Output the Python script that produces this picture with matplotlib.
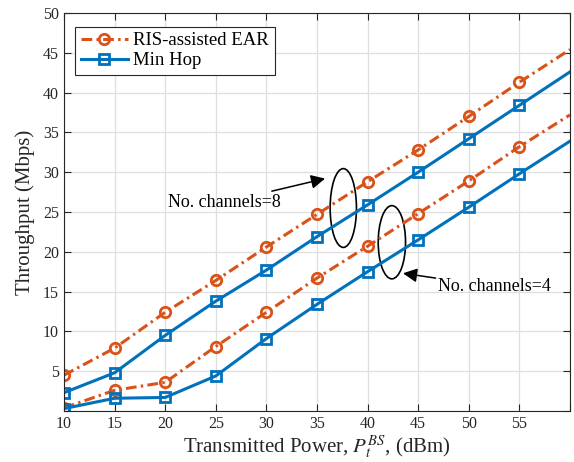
import matplotlib
matplotlib.use("Agg")
import matplotlib.pyplot as plt
from matplotlib.patches import Ellipse

plt.rcParams['font.family'] = ['Liberation Serif', 'DejaVu Serif']
plt.rcParams['mathtext.fontset'] = 'stix'

# transmitted power (dBm)
power = [10, 15, 20, 25, 30, 35, 40, 45, 50, 55, 60]

# throughput (Mbps)
ris_8 = [4.5, 7.9, 12.4, 16.4, 20.6, 24.7, 28.8, 32.8, 37.0, 41.3, 45.4]
hop_8 = [2.3, 4.8, 9.5, 13.8, 17.7, 21.9, 25.9, 30.0, 34.2, 38.4, 42.6]
ris_4 = [0.4, 2.6, 3.6, 8.1, 12.4, 16.7, 20.7, 24.8, 28.9, 33.2, 37.2]
hop_4 = [0.3, 1.6, 1.7, 4.4, 9.1, 13.4, 17.5, 21.5, 25.6, 29.8, 33.9]

orange = '#D95319'
blue = '#0072BD'
marks = list(range(10))

fig = plt.figure(figsize=(5.74, 4.62), dpi=100)
ax = fig.add_axes([0.1115, 0.1104, 0.8815, 0.8615])

ris_style = dict(color=orange, lw=2.2, dashes=(3.5, 1.4, 0.8, 1.4), marker='o', ms=7.5,
                 mfc='none', mew=2.0, markevery=marks)
hop_style = dict(color=blue, lw=2.2, ls='-', marker='s', ms=6.8,
                 mfc='none', mew=2.0, markevery=marks)

ax.plot(power, ris_8, label='RIS-assisted EAR', **ris_style)
ax.plot(power, hop_8, label='Min Hop', **hop_style)
ax.plot(power, ris_4, **ris_style)
ax.plot(power, hop_4, **hop_style)

ax.add_patch(Ellipse((37.6, 25.5), 2.6, 9.9, fill=False, ec='black', lw=1.2))
ax.add_patch(Ellipse((42.4, 21.2), 2.7, 9.2, fill=False, ec='black', lw=1.2))

arrow = dict(arrowstyle='-|>,head_length=0.6,head_width=0.3', color='black', lw=1.1,
             mutation_scale=14, shrinkA=0, shrinkB=0)
ax.annotate('No. channels=8', xy=(35.8, 29.2), xytext=(31.4, 26.2),
            fontsize=13, ha='right', va='center', arrowprops=arrow)
ax.annotate('No. channels=4', xy=(43.5, 17.3), xytext=(47.0, 15.6),
            fontsize=13, ha='left', va='center', arrowprops=arrow)

ax.set_xlim(10, 60)
ax.set_ylim(0, 50)
ax.set_xticks(range(10, 61, 5))
ax.set_xticklabels([str(v) for v in range(10, 56, 5)] + [''])
ax.set_yticks(range(0, 51, 5))
ax.set_yticklabels([''] + [str(v) for v in range(5, 51, 5)])
ax.tick_params(direction='in', top=True, right=True, labelsize=11.5,
               color='#262626', labelcolor='#262626', length=5, width=0.8)
for s in ax.spines.values():
    s.set_color('#262626')
    s.set_linewidth(0.8)
ax.grid(True, color='#dfdfdf', lw=0.9)
ax.set_axisbelow(True)

ax.set_xlabel(r'Transmitted Power, $P_t^{BS}$, (dBm)', fontsize=15, labelpad=1, color='#262626')
ax.set_ylabel('Throughput (Mbps)', fontsize=15, labelpad=6, color='#262626')

leg = ax.legend(loc='upper left', bbox_to_anchor=(0.015, 0.975), fontsize=13.5,
                frameon=True, fancybox=False, edgecolor='#262626', framealpha=1,
                handlelength=2.5, borderpad=0.3, labelspacing=0.15, handletextpad=0.3,
                borderaxespad=0.2)
leg.get_frame().set_linewidth(0.8)

fig.savefig('out.png', dpi=100)
